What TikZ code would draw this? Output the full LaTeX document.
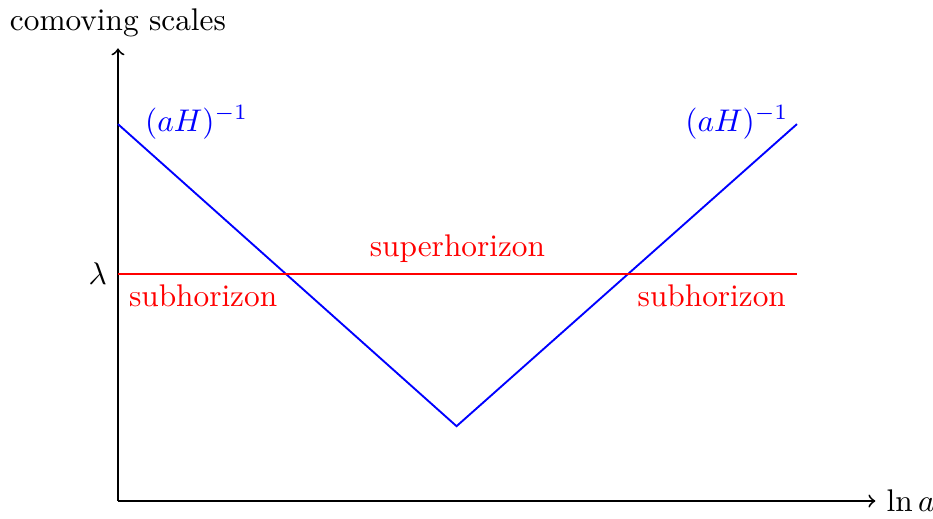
\documentclass[tikz,border=0pt]{standalone}
\usepackage{tikz}
\usetikzlibrary{positioning, calc}

\tikzset{
    axis/.style={->, black, semithick},
    horizon/.style={draw=blue, semithick},
    scaleline/.style={draw=red, semithick},
    redlabel/.style={text=red},
    bluelabel/.style={text=blue}
}

\begin{document}
\begin{tikzpicture}
    \useasboundingbox (-1.324,-0.191) rectangle (9.147,5.623);

    % axes
    \coordinate (origin) at (0,0);
    \coordinate (ytop) at (0,5.08);
    \coordinate (xend) at (8.5,0);
    \draw[axis] (origin) -- (ytop) node[above] (ylabel) {comoving scales};
    \draw[axis] (origin) -- (xend) node[right] (xlabel) {$\ln a$};

    % comoving Hubble radius
    \coordinate (hstart) at (0,4.23);
    \coordinate (hmin) at (3.80,0.84);
    \coordinate (hend) at (7.62,4.23);
    \draw[horizon] (hstart) -- (hmin) -- (hend);
    \node[bluelabel, anchor=west, xshift=0.18cm, yshift=0.02cm] (hleft) at (hstart) {$(aH)^{-1}$};
    \node[bluelabel, left, xshift=0.03cm, yshift=0.02cm] (hright) at (hend) {$(aH)^{-1}$};

    % fixed comoving scale
    \coordinate (lstart) at (0,2.55);
    \coordinate (lend) at (7.62,2.55);
    \draw[scaleline] (lstart) -- (lend);
    \node[left] (lambda) at (lstart) {$\lambda$};
    \node[redlabel, below right] (subleft) at (lstart) {subhorizon};
    \node[redlabel, below left] (subright) at (lend) {subhorizon};
    \node[redlabel, above] (super) at ($(lstart)!0.5!(lend)$) {superhorizon};
\end{tikzpicture}
\end{document}
